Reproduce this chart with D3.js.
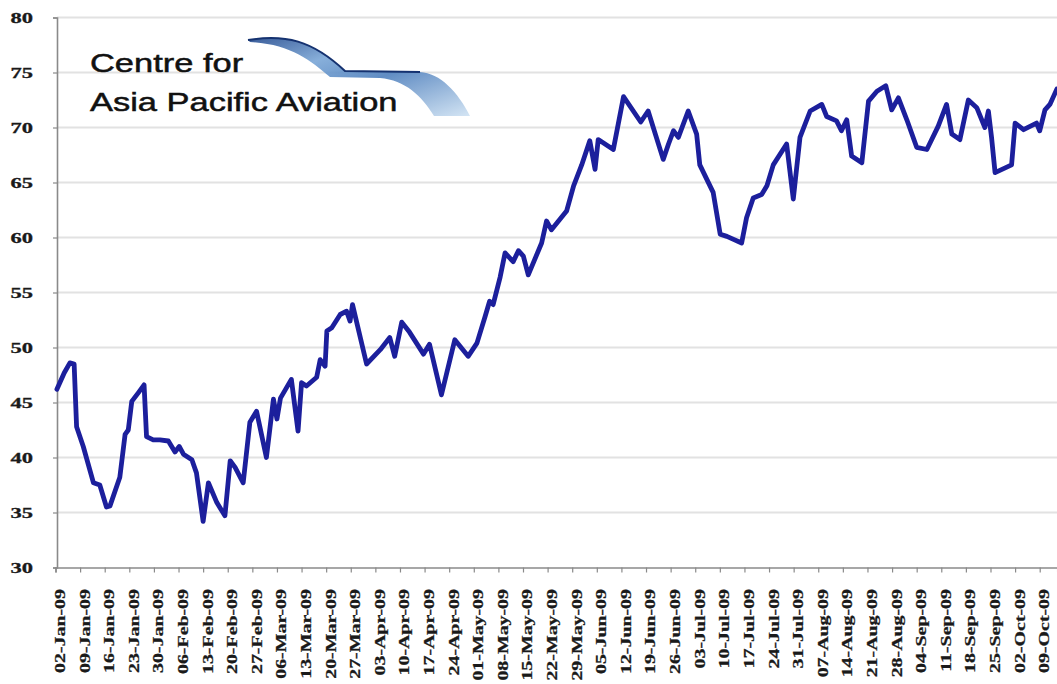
<!DOCTYPE html>
<html>
<head>
<meta charset="utf-8">
<script src="https://cdn.jsdelivr.net/npm/d3@7"></script>
<style>
  html, body { margin: 0; padding: 0; background: #fff; }
  svg { display: block; }
</style>
</head>
<body>
<svg id="chart" width="1057" height="684"></svg>
<script>
// ---- data ----
const startDateLabel = "02-Jan-09";
// days after 02-Jan-09 at which the line changes direction
const dayOffsets = [
  0.4, 2.5, 4.1, 5.3, 6.0, 7.9, 10.8, 12.6, 14.5, 15.5, 18.3, 19.8, 20.7, 21.7, 23.6, 25.2, 25.9, 27.8, 29.7,
  32.1, 34.0, 35.2, 36.4, 38.8, 40.1, 42.0, 43.5, 45.9, 48.2, 49.7, 51.1, 53.4, 55.3, 57.2, 60.0, 62.0, 63.0,
  64.0, 67.1, 69.0, 70.0, 71.4, 74.3, 75.3, 76.7, 77.2, 78.6, 81.0, 82.8, 83.8, 84.5, 88.5, 92.4, 95.1, 96.5,
  98.5, 100.7, 104.7, 106.4, 109.8, 113.6, 117.4, 119.9, 122.2, 123.5, 124.5, 126.5, 127.9, 130.2, 131.7,
  133.1, 134.5, 138.3, 139.7, 141.1, 145.4, 147.4, 149.7, 152.0, 153.5, 154.4, 158.7, 161.6, 166.5, 168.6,
  172.9, 174.4, 175.8, 177.2, 180.0, 182.4, 183.3, 187.1, 189.1, 191.0, 195.2, 196.6, 198.5, 200.9, 202.4,
  204.2, 208.0, 209.9, 211.8, 214.7, 218.0, 219.4, 222.2, 223.6, 225.1, 226.5, 229.4, 231.3, 233.7, 236.2,
  237.9, 239.8, 242.2, 245.0, 247.9, 251.1, 253.5, 255.0, 257.3, 259.7, 262.1, 264.4, 265.4, 266.3, 267.3,
  272.0, 273.0, 275.4, 279.1, 280.0, 281.5, 282.9, 284.9
];
const indexValues = [
  46.2, 47.7, 48.6, 48.5, 42.8, 41.0, 37.7, 37.5, 35.5, 35.6, 38.2, 42.1, 42.5, 45.1, 45.9, 46.6, 41.9, 41.6, 41.6,
  41.5, 40.5, 41.0, 40.3, 39.8, 38.6, 34.2, 37.7, 35.9, 34.7, 39.7, 39.1, 37.7, 43.2, 44.2, 40.0, 45.3, 43.5,
  45.4, 47.1, 42.4, 46.8, 46.5, 47.3, 48.9, 48.3, 51.5, 51.8, 53.0, 53.3, 52.4, 53.9, 48.5, 49.8, 50.9, 49.2,
  52.3, 51.4, 49.4, 50.3, 45.7, 50.7, 49.2, 50.4, 52.8, 54.2, 53.9, 56.4, 58.6, 57.8, 58.8,
  58.3, 56.6, 59.5, 61.5, 60.7, 62.4, 64.7, 66.6, 68.8, 66.2, 68.9, 68.0, 72.8, 70.5, 71.5,
  67.1, 68.5, 69.7, 69.1, 71.5, 69.4, 66.6, 64.1, 60.3, 60.1, 59.5, 61.8, 63.6, 63.9, 64.7,
  66.6, 68.5, 63.5, 69.1, 71.5, 72.1, 71.0, 70.6, 69.7, 70.7, 67.4, 66.8, 72.4, 73.3, 73.8,
  71.6, 72.7, 70.7, 68.2, 68.0, 70.1, 72.1, 69.4, 68.9, 72.5, 71.8, 70.0, 71.5, 69.1, 65.9,
  66.6, 70.4, 69.8, 70.4, 69.7, 71.6, 72.1, 73.5
];
const tickLabels = [
  "02-Jan-09","09-Jan-09","16-Jan-09","23-Jan-09","30-Jan-09","06-Feb-09","13-Feb-09","20-Feb-09","27-Feb-09",
  "06-Mar-09","13-Mar-09","20-Mar-09","27-Mar-09","03-Apr-09","10-Apr-09","17-Apr-09","24-Apr-09",
  "01-May-09","08-May-09","15-May-09","22-May-09","29-May-09","05-Jun-09","12-Jun-09","19-Jun-09","26-Jun-09",
  "03-Jul-09","10-Jul-09","17-Jul-09","24-Jul-09","31-Jul-09","07-Aug-09","14-Aug-09","21-Aug-09","28-Aug-09",
  "04-Sep-09","11-Sep-09","18-Sep-09","25-Sep-09","02-Oct-09","09-Oct-09"
];
const yTicks = [30, 35, 40, 45, 50, 55, 60, 65, 70, 75, 80];
const logoLines = ["Centre for", "Asia Pacific Aviation"];

// ---- chart ----
const svg = d3.select("#chart");
const W = 1057, H = 684;
const parse = d3.timeParse("%d-%b-%y");
const start = parse(startDateLabel);
const endDay = 285;
const x = d3.scaleTime()
  .domain([start, d3.timeHour.offset(start, endDay * 24)])
  .range([55.5, 55.5 + 3.515 * endDay]);
const y = d3.scaleLinear().domain([30, 80]).range([567.5, 17.5]);

const points = dayOffsets.map((d, i) => ({
  date: d3.timeMinute.offset(start, Math.round(d * 1440)),
  v: indexValues[i]
}));

// gridlines
svg.append("g").selectAll("line").data(yTicks.filter(t => t > 30)).join("line")
  .attr("x1", 57).attr("x2", W)
  .attr("y1", d => y(d)).attr("y2", d => y(d))
  .attr("stroke", "#e2e2e2").attr("stroke-width", 1.8);

// y axis
const yAxis = svg.append("g").attr("transform", "translate(57,0)")
  .call(d3.axisLeft(y).tickValues(yTicks).tickSize(4).tickFormat(""));
yAxis.select(".domain").attr("stroke", "#8a8a8a").attr("stroke-width", 1.6);
yAxis.selectAll(".tick line").attr("stroke", "#8a8a8a").attr("stroke-width", 1.2);

svg.append("g").selectAll("text").data(yTicks).join("text")
  .attr("transform", d => `translate(33,${y(d) + 5.5}) scale(1.5,1)`)
  .attr("text-anchor", "end")
  .attr("font-family", "Liberation Serif, Times New Roman, serif")
  .attr("font-weight", "bold")
  .attr("font-size", 15)
  .attr("fill", "#1a1a1a")
  .attr("stroke", "#1a1a1a").attr("stroke-width", 0.3)
  .text(d => d);

// x axis
const tickDates = tickLabels.map(parse);
const xAxis = svg.append("g").attr("transform", `translate(0,${y(30)})`)
  .call(d3.axisBottom(x).tickValues(tickDates).tickSize(5).tickFormat(""));
xAxis.select(".domain").attr("stroke", "#8a8a8a").attr("stroke-width", 1.6);
xAxis.selectAll(".tick line").attr("stroke", "#8a8a8a").attr("stroke-width", 1.2);

svg.append("g").selectAll("text").data(tickLabels).join("text")
  .attr("transform", d => `translate(${x(parse(d)) + 5},589) rotate(-90) scale(1.42,1)`)
  .attr("text-anchor", "end")
  .attr("dominant-baseline", "central")
  .attr("font-family", "Liberation Serif, Times New Roman, serif")
  .attr("font-weight", "bold")
  .attr("font-size", 14)
  .attr("fill", "#1a1a1a")
  .attr("stroke", "#1a1a1a").attr("stroke-width", 0.25)
  .text(d => d);

// logo
const defs = svg.append("defs");
const grad = defs.append("linearGradient").attr("id", "swoosh")
  .attr("x1", "0").attr("y1", "0").attr("x2", "1").attr("y2", "1");
grad.append("stop").attr("offset", "0").attr("stop-color", "#234a8e");
grad.append("stop").attr("offset", "0.3").attr("stop-color", "#7aa6d6");
grad.append("stop").attr("offset", "0.55").attr("stop-color", "#4f80bd");
grad.append("stop").attr("offset", "1").attr("stop-color", "#cfe2f3");
svg.append("path")
  .attr("d", "M248,40 C285,34 312,40 345,71 L420,72 C440,73 458,92 470,116 L434,116 C422,96 405,80 380,78 L330,77 C310,60 290,44 250,42 Z")
  .attr("fill", "url(#swoosh)").attr("opacity", 0.9);
svg.append("path")
  .attr("d", "M248,40 C285,34 312,40 345,71 L420,72")
  .attr("fill", "none").attr("stroke", "#153270").attr("stroke-width", 2);

svg.append("g").selectAll("text").data(logoLines).join("text")
  .attr("transform", (d, i) => `translate(90,${i === 0 ? 72 : 111}) scale(1.3,1)`)
  .attr("font-family", "Liberation Sans, Arial, sans-serif")
  .attr("font-size", 26.5)
  .attr("fill", "#111")
  .attr("stroke", "#111").attr("stroke-width", 0.5)
  .text(d => d);

// series line
svg.append("path").datum(points)
  .attr("fill", "none")
  .attr("stroke", "#1c1f9c")
  .attr("stroke-width", 4.8)
  .attr("stroke-linejoin", "round")
  .attr("stroke-linecap", "round")
  .attr("d", d3.line().x(d => x(d.date)).y(d => y(d.v)));
</script>
</body>
</html>
